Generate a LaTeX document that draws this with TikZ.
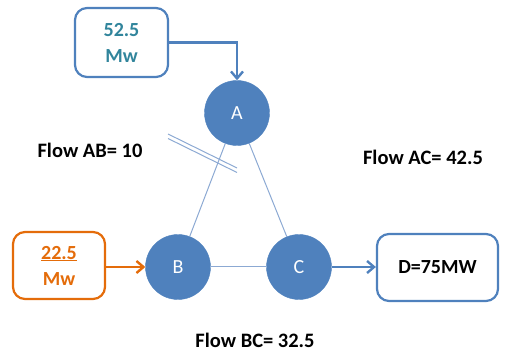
\documentclass[tikz,border=0pt]{standalone}
\usepackage{fontspec}
\setmainfont{Carlito}
\usetikzlibrary{arrows.meta}
\definecolor{nodeblue}{HTML}{4F81BD}
\definecolor{edgeblue}{HTML}{8CA9D3}
\definecolor{teal}{HTML}{31859C}
\definecolor{orng}{HTML}{E46C0A}
\tikzset{
  bus/.style={circle,fill=nodeblue,draw=nodeblue,minimum size=65pt,inner sep=0pt,text=white,font=\fontsize{20}{22}\selectfont},
  rbox/.style={draw=nodeblue,line width=2.2pt,rounded corners=12pt,fill=white,align=center,font=\bfseries\fontsize{20}{26}\selectfont},
  flowlbl/.style={font=\bfseries\fontsize{20.5}{22}\selectfont,text=black},
  link/.style={draw=edgeblue,line width=1pt},
  arr/.style={line width=2.4pt,-{Straight Barb[length=7pt,width=12pt]}},
}
\begin{document}
\begin{tikzpicture}[x=1pt,y=-1pt]
\useasboundingbox (0,0) rectangle (508,352);
\node[bus] (A) at (237,113) {A};
\node[bus] (B) at (178,267) {B};
\node[bus] (C) at (299,267) {C};
\draw[link] (A) -- (B);
\draw[link] (A) -- (C);
\draw[link] (B) -- (C);
\coordinate (x1) at (168,134);
\coordinate (x2) at (237,168);
\coordinate (y1) at (168,138.5);
\coordinate (y2) at (237,172.5);
\draw[link] (x1) -- (x2);
\draw[link] (y1) -- (y2);
\node[rbox,minimum width=93pt,minimum height=69pt,text=teal] (S1) at (121.5,42.5) {52.5\\Mw};
\node[rbox,draw=orng,minimum width=92pt,minimum height=67pt,text=orng] (S2) at (59,265.5) {\underline{22.5}\\Mw};
\node[rbox,minimum width=121pt,minimum height=67pt,text=black] (D) at (437.5,267.5) {D=75MW};
\draw[arr,draw=nodeblue] (S1.east) -| (A.north);
\draw[arr,draw=orng] (S2.east |- B) -- (B.west);
\draw[arr,draw=nodeblue] (C.east) -- (D.west |- C);
\node[flowlbl] (fab) at (90,150) {Flow AB= 10};
\node[flowlbl] (fac) at (423,157) {Flow AC= 42.5};
\node[flowlbl] (fbc) at (255,340) {Flow BC= 32.5};
\end{tikzpicture}
\end{document}
